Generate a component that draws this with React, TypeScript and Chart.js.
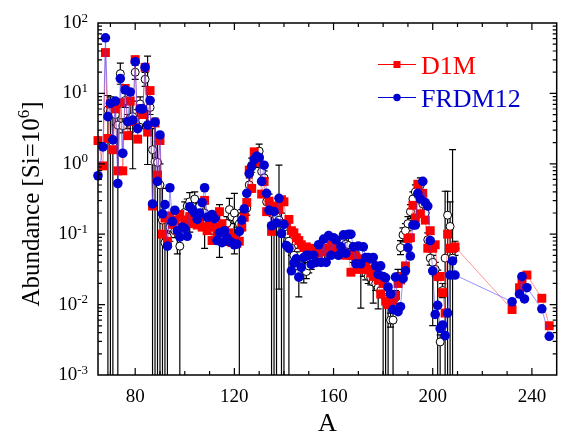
import React, { useEffect, useRef } from "react";
import { Chart, registerables } from "chart.js";

Chart.register(...registerables);

const FONT = '"Liberation Serif", "Times New Roman", Times, serif';

// Mass numbers A (x axis)
const massNumbers = [
  65, 66, 67, 68, 69, 70, 71, 72, 73, 74,
  75, 76, 77, 78, 79, 80, 81, 82, 83, 84,
  85, 86, 87, 88, 89, 90, 91, 92, 93, 94,
  95, 96, 97, 98, 99, 100, 101, 102, 103, 104,
  105, 106, 107, 108, 109, 110, 111, 112, 113, 114,
  115, 116, 117, 118, 119, 120, 121, 122, 123, 124,
  125, 126, 127, 128, 129, 130, 131, 132, 133, 134,
  135, 136, 137, 138, 139, 140, 141, 142, 143, 144,
  145, 146, 147, 148, 149, 150, 151, 152, 153, 154,
  155, 156, 157, 158, 159, 160, 161, 162, 163, 164,
  165, 166, 167, 168, 169, 170, 171, 172, 173, 174,
  175, 176, 177, 178, 179, 180, 181, 182, 183, 184,
  185, 186, 187, 188, 189, 190, 191, 192, 193, 194,
  195, 196, 197, 198, 199, 200, 201, 202, 203, 204,
  205, 206, 207, 208, 209,
  232, 235, 236, 237, 238, 244, 247,
];

// log10 of abundance [Si=1e6], D1M model
const d1mLog10 = [
  0.33, null, -0.03, 1.58, 0.36, 0.85, 0.2, 0.78, -0.1, 0.87,
  -0.1, 1.07, 0.4, 0.89, 0.6, 1.48, 0.35, 0.78, 0.7, 1.37,
  0.45, 1.04, -0.6, 0.58, -0.16, 0.33, -1.0, -0.77, -1.1, -0.74,
  -0.86, -0.81, -0.95, -0.72, -0.9, -0.8, -0.83, -0.75, -0.85, -0.8,
  -0.87, -0.78, -0.9, -0.52, -0.95, -0.85, -1.09, -0.9, -1.0, -0.68,
  -0.85, -0.95, -1.1, -0.98, -1.12, -1.05, -1.13, -1.1, -0.9, -0.76,
  -0.55, -0.09, -0.35, 0.17, 0.02, 0.05, -0.43, -0.25, -0.68, -0.53,
  -0.96, -0.61, -0.6, -0.65, -0.51, -0.54, -0.85, -0.79, -0.95, -0.98,
  -1.05, -1.09, -1.15, -1.19, -1.18, -1.22, -1.2, -1.25, -1.23, -1.27,
  -1.22, -1.25, -1.2, -1.2, -1.15, -1.2, -1.18, -1.2, -1.22, -1.25,
  -1.3, -1.28, -1.54, -1.3, -1.32, -1.5, -1.35, -1.5, -1.45, -1.5,
  -1.55, -1.6, -1.55, -1.65, -1.85, -1.7, -1.95, -2.0, -1.9, -1.95,
  -1.87, -1.7, -1.65, -1.6, -1.45, -1.06, -1.05, -0.59, -0.77, -0.29,
  -0.71, -0.42, -0.8, -1.2, -0.95, -1.2, -1.15, -1.6, -1.6, -1.83,
  -2.12, -1.0, -1.2, -1.2, -1.18,
  -2.07, -1.76, -1.67, null, -1.58, -1.91, -2.3,
];

// log10 of abundance [Si=1e6], FRDM12 model
const frdm12Log10 = [
  -0.17, null, 0.24, 1.79, 0.67, 0.86, 0.34, 0.89, -0.28, 1.21,
  0.15, 1.05, 0.6, 1.02, 0.62, 1.45, 0.5, 0.78, 0.78, 1.37,
  0.55, 0.9, -0.57, 0.59, -0.25, 0.41, -0.71, -0.58, -1.17, -0.34,
  -0.82, -0.66, -0.95, -1.04, -0.9, -0.92, -1.03, -0.61, -0.65, -0.7,
  -0.79, -0.7, -0.55, -0.34, -0.76, -0.75, -0.72, -0.78, -1.09, -0.98,
  -1.12, -0.95, -1.05, -1.1, -1.12, -1.15, -1.14, -0.96, -0.8, -0.64,
  -0.42, -0.14, -0.04, 0.06, 0.11, 0.09, -0.25, -0.02, -0.42, -0.66,
  -0.88, -0.68, -0.84, -0.49, -0.99, -0.86, -1.16, -1.2, -1.52, -1.41,
  -1.35, -1.61, -1.47, -1.33, -1.3, -1.3, -1.43, -1.3, -1.4, -1.15,
  -1.4, -1.07, -1.4, -1.02, -1.3, -1.05, -1.08, -1.3, -1.18, -1.01,
  -1.27, -1.0, -1.0, -1.18, -1.42, -1.17, -1.42, -1.18, -1.33, -1.33,
  -1.35, -1.33, -1.45, -1.57, -1.45, -1.6, -1.62, -1.75, -1.85, -2.07,
  -1.61, -2.1, -2.03, -1.63, -1.52, -1.19, -1.31, -0.87, -0.87, -0.42,
  -0.5, -0.25, -0.55, -0.6, -1.09, -1.52, -2.14, -2.01, -2.34, -2.29,
  -2.44, -2.12, -1.58, -1.38, -1.58,
  -1.96, -1.85, -1.6, -1.92, -1.76, -2.06, -2.45,
];

// log10 of solar r-process abundance (open circles)
const solarLog10 = [
  null, null, null, null, 0.77, 0.75, 0.29, 0.7, 0.55, 1.28,
  0.54, 0.9, 0.6, 0.65, 0.67, 1.3, 0.62, 0.85, 0.62, 1.2,
  0.55, 0.8, 0.2, 0.03, 0.02, -0.3, -0.8, -1.12, -1.04, -0.9,
  -0.85, -0.95, -0.9, -1.17, -0.85, -0.69, -0.6, -0.54, -0.6, -0.5,
  -0.65, -0.6, -0.75, -0.7, -0.8, -0.83, -0.8, -0.9, -0.95, -0.9,
  -1.0, -1.06, -0.85, -0.65, -0.75, -0.7, -0.8, -0.85, -0.75, -0.7,
  -0.63, -0.3, -0.02, 0.1, 0.05, 0.18, -0.11, -0.2, -0.54, -0.53,
  -0.7, -0.65, -0.75, -0.8, -0.85, -0.9, -1.0, -1.1, -1.2, -1.3,
  -1.35, -1.55, -1.45, -1.5, -1.53, -1.45, -1.4, -1.35, -1.3, -1.25,
  -1.3, -1.2, -1.25, -1.2, -1.22, -1.15, -1.2, -1.15, -1.2, -1.12,
  -1.14, -1.16, -1.25, -1.3, -1.35, -1.4, -1.45, -1.5, -1.55, -1.6,
  -1.62, -1.68, -1.7, -1.76, -1.8, -1.85, -1.9, -1.91, -2.22, -2.22,
  -1.9, -1.6, -1.19, -1.01, -0.95, -0.85, -0.68, -0.5, -0.4, -0.44,
  -0.3, -0.57, -0.7, -1.08, -1.34, -1.4, -1.5, -1.61, -2.53, -1.8,
  -1.34, -0.73, -0.89, -1.34, -1.2,
  null, null, null, null, null, null, null,
];

// solar error bars, in dex below / above the value (9 = lower bound off the axis)
const solarErrLo = [
  null, null, null, null, 9, 9, 9, 0.15, 9, 0.15,
  0.1, 0.1, 0.1, 0.2, 0.74, 0.1, 0.15, 0.1, 0.12, 0.1,
  0.56, 0.1, 9, 9, 9, 9, 9, 9, 9, 0.2,
  0.1, 0.1, 0.38, 9, 0.1, 0.15, 0.1, 0.43, 0.1, 0.1,
  0.1, 0.1, 0.1, 0.5, 0.1, 0.1, 0.1, 0.1, 0.1, 0.43,
  0.1, 0.1, 0.1, 0.15, 0.1, 0.58, 0.1, 9, 0.1, 0.1,
  0.1, 0.1, 0.1, 0.1, 0.1, 0.1, 0.1, 0.1, 0.1, 0.1,
  9, 9, 9, 0.98, 9, 9, 0.1, 9, 0.1, 0.1,
  0.1, 0.34, 0.1, 0.19, 0.1, 0.1, 0.1, 0.1, 0.1, 0.1,
  0.1, 0.1, 0.1, 0.1, 0.1, 0.1, 0.1, 0.1, 0.1, 0.1,
  0.1, 0.1, 0.1, 0.1, 0.1, 0.1, 0.6, 0.1, 0.1, 0.1,
  0.1, 0.3, 0.1, 0.3, 0.1, 9, 9, 9, 0.1, 9,
  0.1, 0.1, 0.1, 0.1, 0.1, 0.1, 0.1, 0.1, 0.1, 0.1,
  0.1, 0.1, 0.1, 0.1, 0.1, 0.9, 0.1, 9, 9, 0.1,
  9, 9, 9, 9, 0.1,
  null, null, null, null, null, null, null,
];
const solarErrHi = [
  null, null, null, null, 0.2, 0.2, 0.5, 0.15, 0.25, 0.15,
  0.1, 0.1, 0.1, 0.2, 0.22, 0.1, 0.15, 0.1, 0.12, 0.1,
  0.98, 0.1, 0.3, 0.62, 0.3, 0.3, 0.45, 0.3, 0.2, 0.2,
  0.1, 0.1, 0.1, 0.1, 0.1, 0.15, 0.1, 0.13, 0.1, 0.1,
  0.1, 0.1, 0.1, 0.15, 0.1, 0.1, 0.1, 0.1, 0.1, 0.32,
  0.1, 0.1, 0.1, 0.16, 0.1, 0.28, 0.1, 0.1, 0.1, 0.1,
  0.1, 0.1, 0.1, 0.1, 0.1, 0.1, 0.1, 0.1, 0.1, 0.1,
  0.1, 0.1, 0.15, 0.78, 0.15, 0.1, 0.1, 0.15, 0.1, 0.1,
  0.1, 0.1, 0.1, 0.1, 0.1, 0.1, 0.1, 0.1, 0.1, 0.1,
  0.1, 0.1, 0.1, 0.1, 0.1, 0.1, 0.1, 0.1, 0.1, 0.1,
  0.1, 0.1, 0.1, 0.1, 0.1, 0.1, 0.1, 0.1, 0.1, 0.1,
  0.1, 0.1, 0.1, 0.1, 0.1, 0.1, 0.1, 0.1, 0.1, 0.1,
  0.1, 0.1, 0.1, 0.1, 0.1, 0.1, 0.1, 0.1, 0.1, 0.1,
  0.1, 0.1, 0.1, 0.1, 0.1, 0.1, 0.1, 0.1, 0.1, 0.1,
  0.95, 0.34, 0.35, 1.54, 0.1,
  null, null, null, null, null, null, null,
];

const xTickLabels = [80, 120, 160, 200, 240];
const yDecades = [-3, -2, -1, 0, 1, 2];
const seriesNames = ["D1M", "FRDM12"];

const RED = "#ff0000";
const BLUE = "#0000d0";

const toPoints = (vals: (number | null)[]) =>
  massNumbers.map((a, i) => ({ x: a, y: vals[i] == null ? null : Math.pow(10, vals[i] as number) }));

const decorPlugin = {
  id: "decor",
  beforeDatasetsDraw(chart: any) {
    const { ctx, chartArea: ca, scales } = chart;
    const xs = scales.x;
    const ys = scales.y;
    ctx.save();
    ctx.beginPath();
    ctx.rect(ca.left, ca.top, ca.right - ca.left, ca.bottom - ca.top);
    ctx.clip();
    ctx.strokeStyle = "#000";
    ctx.lineWidth = 1.2;
    massNumbers.forEach((a, i) => {
      const v = solarLog10[i];
      if (v == null) return;
      const lo = solarErrLo[i] as number;
      const hi = solarErrHi[i] as number;
      const x = xs.getPixelForValue(a);
      const yTop = ys.getPixelForValue(Math.pow(10, v + hi));
      const offAxis = lo >= 5;
      const yBot = offAxis ? ca.bottom + 5 : ys.getPixelForValue(Math.pow(10, v - lo));
      ctx.beginPath();
      ctx.moveTo(x, yTop);
      ctx.lineTo(x, yBot);
      ctx.moveTo(x - 3.5, yTop);
      ctx.lineTo(x + 3.5, yTop);
      if (!offAxis) {
        ctx.moveTo(x - 3.5, yBot);
        ctx.lineTo(x + 3.5, yBot);
      }
      ctx.stroke();
    });
    ctx.restore();
  },
  afterDatasetsDraw(chart: any) {
    const { ctx, chartArea: ca, scales } = chart;
    const xs = scales.x;
    const ys = scales.y;
    ctx.save();
    ctx.strokeStyle = "#000";
    ctx.fillStyle = "#000";
    // frame
    ctx.lineWidth = 1.5;
    ctx.strokeRect(ca.left, ca.top, ca.right - ca.left, ca.bottom - ca.top);
    // x ticks (inward, bottom & top)
    ctx.lineWidth = 1.2;
    ctx.beginPath();
    for (let a = 70; a <= 250; a += 10) {
      const x = xs.getPixelForValue(a);
      if (x <= ca.left + 1 || x >= ca.right - 1) continue;
      const len = a % 40 === 0 ? 7 : 4;
      ctx.moveTo(x, ca.bottom);
      ctx.lineTo(x, ca.bottom - len);
      ctx.moveTo(x, ca.top);
      ctx.lineTo(x, ca.top + len);
    }
    // y ticks (inward, left & right)
    for (let e = -3; e <= 1; e++) {
      for (let m = 1; m <= 9; m++) {
        const val = m * Math.pow(10, e);
        const y = ys.getPixelForValue(val);
        const len = m === 1 ? 7 : 4;
        if (m === 1 && e === -3) continue;
        ctx.moveTo(ca.left, y);
        ctx.lineTo(ca.left + len, y);
        ctx.moveTo(ca.right, y);
        ctx.lineTo(ca.right - len, y);
      }
    }
    ctx.stroke();

    // x tick labels
    ctx.font = `19px ${FONT}`;
    ctx.textAlign = "center";
    ctx.textBaseline = "alphabetic";
    xTickLabels.forEach((a) => {
      ctx.fillText(String(a), xs.getPixelForValue(a), ca.bottom + 27);
    });

    // y tick labels with superscripts
    ctx.textAlign = "left";
    yDecades.forEach((e) => {
      const y = ys.getPixelForValue(Math.pow(10, e));
      const base = "10";
      const exp = String(e);
      ctx.font = `19px ${FONT}`;
      const wb = ctx.measureText(base).width;
      ctx.font = `13px ${FONT}`;
      const we = ctx.measureText(exp).width;
      const right = ca.left - 10;
      ctx.font = `19px ${FONT}`;
      ctx.fillText(base, right - we - wb, y + 5);
      ctx.font = `13px ${FONT}`;
      ctx.fillText(exp, right - we, y - 1.5);
    });

    // x title
    ctx.font = `26px ${FONT}`;
    ctx.textAlign = "center";
    ctx.fillText("A", (ca.left + ca.right) / 2, ca.bottom + 56);

    // y title (rotated, with superscript)
    ctx.save();
    ctx.translate(39, 204);
    ctx.rotate(-Math.PI / 2);
    const p1 = "Abundance [Si=10";
    const p2 = "6";
    const p3 = "]";
    ctx.font = `25px ${FONT}`;
    const w1 = ctx.measureText(p1).width;
    const w3 = ctx.measureText(p3).width;
    ctx.font = `17px ${FONT}`;
    const w2 = ctx.measureText(p2).width;
    const total = w1 + w2 + w3;
    ctx.textAlign = "left";
    let cx = -total / 2;
    ctx.font = `25px ${FONT}`;
    ctx.fillText(p1, cx, 0);
    cx += w1;
    ctx.font = `17px ${FONT}`;
    ctx.fillText(p2, cx, -10);
    cx += w2;
    ctx.font = `25px ${FONT}`;
    ctx.fillText(p3, cx, 0);
    ctx.restore();

    // legend
    const legend = [
      { name: seriesNames[0], color: RED, y: 64, shape: "rect" },
      { name: seriesNames[1], color: BLUE, y: 97, shape: "circle" },
    ];
    legend.forEach((it) => {
      ctx.strokeStyle = it.color;
      ctx.fillStyle = it.color;
      ctx.lineWidth = 1;
      ctx.beginPath();
      ctx.moveTo(378, it.y + 0.5);
      ctx.lineTo(416, it.y + 0.5);
      ctx.stroke();
      if (it.shape === "rect") {
        ctx.fillRect(397 - 3.5, it.y + 0.5 - 3.5, 7, 7);
      } else {
        ctx.beginPath();
        ctx.arc(397, it.y + 0.5, 3.7, 0, Math.PI * 2);
        ctx.fill();
      }
      ctx.font = `26px ${FONT}`;
      ctx.textAlign = "left";
      ctx.textBaseline = "alphabetic";
      ctx.fillText(it.name, 421, it.y + 9.5);
    });
    ctx.restore();
  },
};

export default function App() {
  const canvasRef = useRef<HTMLCanvasElement>(null);

  useEffect(() => {
    document.body.style.margin = "0";
    const canvas = canvasRef.current;
    if (!canvas) return;
    const chart = new Chart(canvas, {
      type: "line",
      data: {
        datasets: [
          {
            label: seriesNames[1],
            data: toPoints(frdm12Log10),
            borderColor: "rgba(60,60,255,0.55)",
            borderWidth: 1,
            backgroundColor: BLUE,
            pointBackgroundColor: BLUE,
            pointBorderColor: BLUE,
            pointBorderWidth: 0,
            pointStyle: "circle",
            pointRadius: 4.8,
            spanGaps: true,
            tension: 0,
            order: 1,
            clip: false,
          } as any,
          {
            label: seriesNames[0],
            data: toPoints(d1mLog10),
            borderColor: "rgba(255,60,60,0.55)",
            borderWidth: 1,
            backgroundColor: RED,
            pointBackgroundColor: RED,
            pointBorderColor: RED,
            pointBorderWidth: 0,
            pointStyle: "rect",
            pointRadius: 6.3,
            spanGaps: true,
            tension: 0,
            order: 2,
            clip: false,
          } as any,
          {
            label: "Solar",
            data: toPoints(solarLog10).filter((p) => p.y != null),
            showLine: false,
            pointBackgroundColor: "#ffffff",
            pointBorderColor: "#000000",
            pointBorderWidth: 1,
            pointStyle: "circle",
            pointRadius: 4,
            order: 3,
            clip: false,
          } as any,
        ],
      },
      options: {
        animation: false,
        responsive: false,
        maintainAspectRatio: false,
        events: [],
        layout: { padding: { left: 98, top: 23, right: 3, bottom: 58 } },
        plugins: {
          legend: { display: false },
          tooltip: { enabled: false },
          title: { display: false },
        },
        scales: {
          x: { type: "linear", min: 65, max: 250, display: false },
          y: { type: "logarithmic", min: 1e-3, max: 1e2, display: false },
        },
      },
      plugins: [decorPlugin],
    });
    return () => chart.destroy();
  }, []);

  return (
    <div style={{ width: 563, height: 433, background: "#fff" }}>
      <canvas ref={canvasRef} width={563} height={433} style={{ display: "block" }} />
    </div>
  );
}
